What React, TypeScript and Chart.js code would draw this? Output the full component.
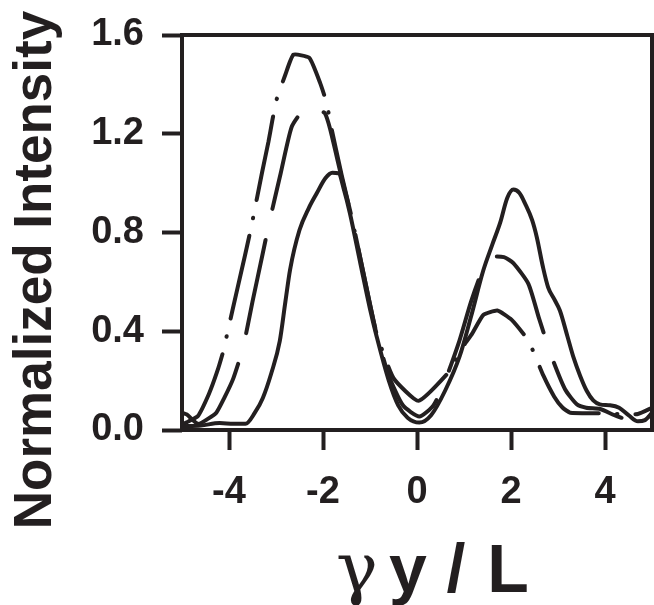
import React, { useEffect, useRef } from "react";
import { Chart, registerables } from "chart.js";

Chart.register(...registerables);

const INK = "#231f20";

// Solid curve
const solidX = [-5.0, -4.6, -4.2, -3.9, -3.65, -3.45, -3.28, -3.1, -2.92, -2.8, -2.7, -2.5, -2.3, -2.13, -1.95, -1.8, -1.67, -1.55, -1.43, -1.2, -1.0, -0.86, -0.6, -0.4, -0.2, 0.05, 0.3, 0.6, 0.91, 1.15, 1.41, 1.6, 1.77, 1.92, 2.05, 2.18, 2.3, 2.45, 2.55, 2.68, 2.79, 2.92, 3.04, 3.2, 3.33, 3.47, 3.61, 3.75, 3.89, 4.1, 4.3, 4.5, 4.7, 4.85, 5.0];
const solidY = [0.015, 0.018, 0.028, 0.025, 0.025, 0.07, 0.13, 0.23, 0.36, 0.52, 0.65, 0.81, 0.9, 0.96, 1.02, 1.042, 1.04, 0.97, 0.88, 0.67, 0.49, 0.38, 0.2, 0.1, 0.05, 0.03, 0.06, 0.16, 0.3, 0.46, 0.646, 0.75, 0.84, 0.94, 0.974, 0.96, 0.917, 0.85, 0.78, 0.66, 0.578, 0.53, 0.484, 0.38, 0.294, 0.22, 0.159, 0.12, 0.104, 0.1, 0.09, 0.06, 0.035, 0.04, 0.07];

// Long-dashed curve
const dashX = [-5.0, -4.9, -4.66, -4.45, -4.27, -4.1, -3.91, -3.7, -3.5, -3.28, -3.14, -2.9, -2.67, -2.45, -2.3, -2.1, -1.96, -1.85, -1.6, -1.4, -1.1, -0.86, -0.6, -0.3, 0.05, 0.35, 0.6, 0.9, 1.15, 1.4, 1.6, 1.85, 2.05, 2.37, 2.6, 2.87, 3.15, 3.4, 3.6, 3.9, 4.2, 4.5, 4.75, 5.0];
const dashY = [0.07, 0.063, 0.025, 0.045, 0.07, 0.13, 0.208, 0.335, 0.52, 0.717, 0.843, 1.04, 1.226, 1.29, 1.31, 1.297, 1.283, 1.22, 1.02, 0.87, 0.6, 0.39, 0.22, 0.1, 0.055, 0.1, 0.2, 0.36, 0.52, 0.65, 0.7, 0.7, 0.676, 0.592, 0.45, 0.294, 0.165, 0.104, 0.09, 0.085, 0.06, 0.04, 0.03, 0.05];

// Dash-dot curve
const dotX = [-5.0, -4.91, -4.66, -4.43, -4.26, -4.13, -3.92, -3.72, -3.62, -3.52, -3.3, -3.16, -3.08, -2.99, -2.8, -2.63, -2.29, -2.06, -1.92, -1.85, -1.6, -1.4, -1.1, -0.86, -0.5, 0.03, 0.7, 0.91, 1.16, 1.41, 1.71, 2.01, 2.37, 2.69, 2.92, 3.1, 3.26, 3.8, 4.3, 4.7, 5.0];
const dotY = [0.02, 0.03, 0.057, 0.145, 0.232, 0.314, 0.49, 0.657, 0.741, 0.829, 1.04, 1.168, 1.252, 1.337, 1.44, 1.52, 1.507, 1.405, 1.324, 1.25, 1.03, 0.87, 0.6, 0.39, 0.21, 0.118, 0.24, 0.32, 0.386, 0.466, 0.484, 0.447, 0.362, 0.22, 0.135, 0.09, 0.07, 0.068, 0.065, 0.065, 0.09];

const xTicks = [-4, -2, 0, 2, 4];
const yTicks = [0, 0.4, 0.8, 1.2, 1.6];

const pts = (xs: number[], ys: number[]) => xs.map((x, i) => ({ x, y: ys[i] }));

const framePlugin = {
  id: "frameAndTitles",
  afterDraw(chart: any) {
    const { ctx, chartArea } = chart;
    const { left, top, right, bottom } = chartArea;
    ctx.save();
    ctx.strokeStyle = INK;
    ctx.lineWidth = 4;
    ctx.strokeRect(left, top, right - left, bottom - top);
    ctx.fillStyle = INK;
    // Y title
    ctx.save();
    ctx.translate(51, 270);
    ctx.rotate(-Math.PI / 2);
    ctx.font = 'bold 53px "Liberation Sans", Arial, sans-serif';
    ctx.textAlign = "center";
    ctx.textBaseline = "alphabetic";
    ctx.fillText("Normalized Intensity", 0, 0);
    ctx.restore();
    // X title
    ctx.textAlign = "center";
    ctx.textBaseline = "alphabetic";
    ctx.font = '70px "DejaVu Serif", serif';
    ctx.fillText("γ", 357, 592);
    ctx.font = 'bold 68px "Liberation Sans", Arial, sans-serif';
    ctx.fillText("y", 408, 592);
    ctx.fillText("/", 456, 592);
    ctx.fillText("L", 508, 592);
    ctx.restore();
  },
};

export default function App() {
  const ref = useRef<HTMLCanvasElement | null>(null);
  useEffect(() => {
    if (!ref.current) return;
    const tickFont = { family: '"Liberation Sans", Arial, sans-serif', size: 38, weight: "bold" as const };
    const chart = new Chart(ref.current, {
      type: "line",
      data: {
        datasets: [
          {
            data: pts(solidX, solidY),
            borderColor: INK,
            borderWidth: 4,
            pointRadius: 0,
            cubicInterpolationMode: "monotone",
            fill: false,
          },
          {
            data: pts(dashX, dashY),
            borderColor: INK,
            borderWidth: 4,
            pointRadius: 0,
            borderDash: [95, 32],
            borderCapStyle: "round",
            tension: 0.2,
            fill: false,
          },
          {
            data: pts(dotX, dotY),
            borderColor: INK,
            borderWidth: 4,
            pointRadius: 0,
            borderDash: [85, 18, 0.5, 18],
            borderCapStyle: "round",
            tension: 0.15,
            fill: false,
          },
        ],
      },
      options: {
        animation: false,
        responsive: false,
        layout: { padding: { left: 0, top: 35, right: 2, bottom: 0 } },
        plugins: { legend: { display: false }, tooltip: { enabled: false } },
        scales: {
          x: {
            type: "linear",
            min: -5,
            max: 5,
            afterBuildTicks: (s: any) => {
              s.ticks = xTicks.map((v) => ({ value: v }));
            },
            afterFit: (s: any) => {
              s.height = 175;
              s.paddingLeft = 0;
              s.paddingRight = 0;
            },
            grid: { drawOnChartArea: false, drawTicks: true, tickLength: 20, tickWidth: 4, tickColor: INK, color: INK },
            border: { display: false },
            ticks: { color: INK, font: tickFont, padding: 20, maxRotation: 0, callback: (v: any) => String(v) },
          },
          y: {
            type: "linear",
            min: 0,
            max: 1.6,
            afterBuildTicks: (s: any) => {
              s.ticks = yTicks.map((v) => ({ value: v }));
            },
            afterFit: (s: any) => {
              s.width = 182;
              s.paddingTop = 0;
              s.paddingBottom = 0;
            },
            grid: { drawOnChartArea: false, drawTicks: true, tickLength: 20, tickWidth: 4, tickColor: INK, color: INK },
            border: { display: false },
            ticks: { color: INK, font: tickFont, padding: 18, callback: (v: any) => Number(v).toFixed(1) },
          },
        },
      },
      plugins: [framePlugin],
    });
    return () => chart.destroy();
  }, []);
  return (
    <div style={{ position: "absolute", left: 0, top: 0, width: 654, height: 605 }}>
      <canvas ref={ref} width={654} height={605} />
    </div>
  );
}
